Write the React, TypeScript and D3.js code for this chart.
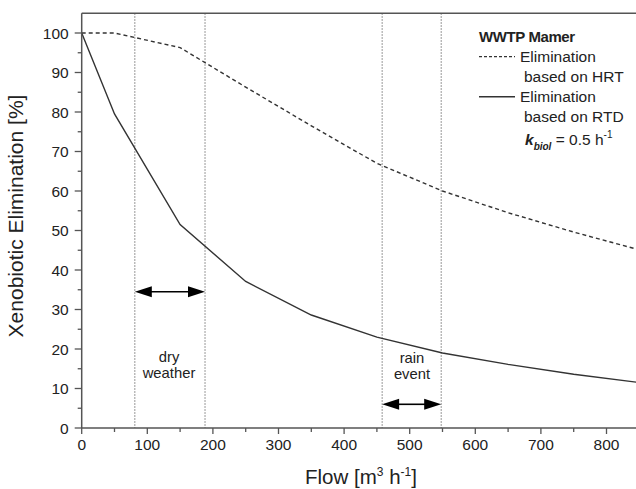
import React from "react";
import * as d3 from "d3";

// flow [m3/h]
const flowHRT = [0, 50, 150, 250, 350, 450, 550, 650, 750, 850];
const elimHRT = [100, 100, 96.3, 86.3, 76.5, 67, 60, 54.5, 49.6, 45.1];
const flowRTD = [0, 50, 150, 250, 350, 450, 550, 650, 750, 850];
const elimRTD = [100, 79.5, 51.5, 37.1, 28.6, 23, 19, 16.1, 13.6, 11.5];

const xTicks = [0, 100, 200, 300, 400, 500, 600, 700, 800];
const yTicks = [0, 10, 20, 30, 40, 50, 60, 70, 80, 90, 100];

// dry weather and rain event limits
const dryRange = [81, 188];
const rainRange = [458, 548];
const dryArrowY = 34.5;
const rainArrowY = 6;

const W = 636;
const H = 489;
const font = "'Liberation Sans', Arial, sans-serif";

const x = d3.scaleLinear().domain([0, 850]).range([81.7, 639.3]);
const y = d3.scaleLinear().domain([0, 105]).range([428, 13.25]);

const lineGen = d3
  .line<[number, number]>()
  .x((d) => x(d[0]))
  .y((d) => y(d[1]));

const Arrow = ({ x0, x1, yv }: { x0: number; x1: number; yv: number }) => {
  const a = x(x0);
  const b = x(x1);
  const cy = y(yv);
  const hl = 17;
  const hh = 5.5;
  return (
    <g>
      <line x1={a + hl - 2} x2={b - hl + 2} y1={cy} y2={cy} stroke="#000" strokeWidth={1.6} />
      <path d={`M${a},${cy}L${a + hl},${cy - hh}L${a + hl},${cy + hh}Z`} fill="#000" />
      <path d={`M${b},${cy}L${b - hl},${cy - hh}L${b - hl},${cy + hh}Z`} fill="#000" />
    </g>
  );
};

export default function App() {
  const hrt = flowHRT.map((f, i) => [f, elimHRT[i]] as [number, number]);
  const rtd = flowRTD.map((f, i) => [f, elimRTD[i]] as [number, number]);
  const minorY = d3.range(5, 105, 10);
  const minorX = d3.range(50, 850, 100);
  const x0 = x(0);
  const yb = y(0);
  const yt = y(105);

  return (
    <svg
      width={W}
      height={H}
      style={{ position: "absolute", left: 0, top: 0, background: "#fff" }}
      fontFamily={font}
    >
      {/* guide lines */}
      {[...dryRange, ...rainRange].map((v) => (
        <line
          key={v}
          x1={x(v)}
          x2={x(v)}
          y1={yt}
          y2={yb}
          stroke="#777"
          strokeWidth={1}
          strokeDasharray="1.5,1.5"
        />
      ))}

      {/* curves */}
      <path d={lineGen(hrt) || ""} fill="none" stroke="#333" strokeWidth={1.4} strokeDasharray="4,3" />
      <path d={lineGen(rtd) || ""} fill="none" stroke="#333" strokeWidth={1.4} />

      {/* frame / axes */}
      <line x1={x0} x2={W} y1={yt} y2={yt} stroke="#555" strokeWidth={1.5} />
      <line x1={x0} x2={x0} y1={yt} y2={yb} stroke="#555" strokeWidth={1.5} />
      <line x1={x0} x2={W} y1={yb} y2={yb} stroke="#555" strokeWidth={1.5} />

      {yTicks.map((t) => (
        <g key={"y" + t}>
          <line x1={x0 - 7} x2={x0} y1={y(t)} y2={y(t)} stroke="#555" strokeWidth={1.3} />
          <text x={x0 - 13} y={y(t) + 5.5} textAnchor="end" fontSize={15.5} fill="#222">
            {t}
          </text>
        </g>
      ))}
      {minorY.map((t) => (
        <line key={"my" + t} x1={x0 - 4} x2={x0} y1={y(t)} y2={y(t)} stroke="#555" strokeWidth={1.3} />
      ))}
      {xTicks.map((t) => (
        <g key={"x" + t}>
          <line x1={x(t)} x2={x(t)} y1={yb} y2={yb + 6} stroke="#555" strokeWidth={1.3} />
          <text x={x(t)} y={yb + 22} textAnchor="middle" fontSize={15.5} fill="#222">
            {t}
          </text>
        </g>
      ))}
      {minorX.map((t) => (
        <line key={"mx" + t} x1={x(t)} x2={x(t)} y1={yb} y2={yb + 4} stroke="#555" strokeWidth={1.3} />
      ))}

      {/* axis titles */}
      <text
        transform={`translate(23,216) rotate(-90)`}
        textAnchor="middle"
        fontSize={21}
        fill="#222"
      >
        Xenobiotic Elimination [%]
      </text>
      <text x={361} y={484} textAnchor="middle" fontSize={20.5} fill="#222">
        Flow [m
        <tspan dy={-8} fontSize={12}>3</tspan>
        <tspan dy={8}> h</tspan>
        <tspan dy={-8} fontSize={12}>-1</tspan>
        <tspan dy={8}>]</tspan>
      </text>

      {/* arrows */}
      <Arrow x0={dryRange[0]} x1={dryRange[1]} yv={dryArrowY} />
      <Arrow x0={rainRange[0]} x1={rainRange[1]} yv={rainArrowY} />
      <text x={169} y={362} textAnchor="middle" fontSize={14.8} fill="#222">dry</text>
      <text x={169} y={378} textAnchor="middle" fontSize={14.8} fill="#222">weather</text>
      <text x={412} y={363} textAnchor="middle" fontSize={14.8} fill="#222">rain</text>
      <text x={412} y={379} textAnchor="middle" fontSize={14.8} fill="#222">event</text>

      {/* legend */}
      <g fill="#222" fontSize={15.5}>
        <text x={479} y={42} fontWeight="bold" fontSize={15} letterSpacing={-0.4}>
          WWTP Mamer
        </text>
        <line x1={479} x2={515} y1={56.7} y2={56.7} stroke="#333" strokeWidth={1.3} strokeDasharray="3,2" />
        <text x={520} y={62}>Elimination</text>
        <text x={524} y={82}>based on HRT</text>
        <line x1={479} x2={515} y1={96.7} y2={96.7} stroke="#333" strokeWidth={1.5} />
        <text x={520} y={102}>Elimination</text>
        <text x={524} y={122}>based on RTD</text>
        <text x={525} y={145}>
          <tspan fontStyle="italic" fontWeight="bold">k</tspan>
          <tspan dy={5} fontSize={10} fontStyle="italic" fontWeight="bold">biol</tspan>
          <tspan dy={-5}> = 0.5 h</tspan>
          <tspan dy={-7} fontSize={10}>-1</tspan>
        </text>
      </g>
    </svg>
  );
}
